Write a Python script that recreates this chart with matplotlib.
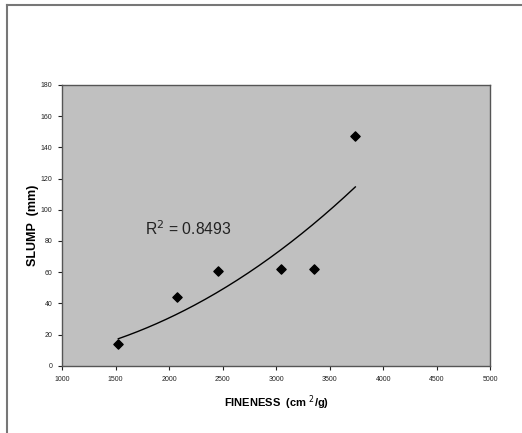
import numpy as np
import matplotlib.pyplot as plt
import matplotlib as mpl
from matplotlib.lines import Line2D

mpl.rcParams['font.family'] = ['Liberation Sans', 'DejaVu Sans']

fineness = [1525, 2070, 2460, 3050, 3350, 3740]
slump = [14, 44, 61, 62, 62, 147]
r2_text = r'R$^2$ = 0.8493'

# power trendline (as in the spreadsheet chart)
c, ln_a = np.polyfit(np.log(fineness), np.log(slump), 1)
xs = np.linspace(min(fineness), max(fineness), 200)
ys = np.exp(ln_a) * xs ** c

fig = plt.figure(figsize=(5.22, 4.33), dpi=100)
ax = fig.add_axes([0.119, 0.155, 0.820, 0.649])
ax.set_facecolor('#c0c0c0')

ax.scatter(fineness, slump, marker='D', s=22, color='black', zorder=3)
ax.plot(xs, ys, color='black', lw=1.0)

ax.set_xlim(1000, 5000)
ax.set_ylim(0, 180)
ax.set_xticks(np.arange(1000, 5001, 500))
ax.set_yticks(np.arange(0, 181, 20))
ax.tick_params(labelsize=5, length=3, width=0.8, colors='#222222', pad=4)
for s in ax.spines.values():
    s.set_color('#555555')
    s.set_linewidth(1.0)

ax.set_xlabel('FINENESS  (cm $^2$/g)', fontsize=8, fontweight='bold', labelpad=8)
ax.set_ylabel('SLUMP  (mm)', fontsize=9, fontweight='bold', labelpad=1)
ax.text(1770, 84, r2_text, fontsize=11.3, color='#222222')

# outer frame (top and left edges)
fig.add_artist(Line2D([0.0134, 0.0134], [0.0, 0.988], color='#777777', lw=1.5))
fig.add_artist(Line2D([0.0134, 1.0], [0.988, 0.988], color='#777777', lw=1.5))

plt.savefig('out.png', dpi=100)
